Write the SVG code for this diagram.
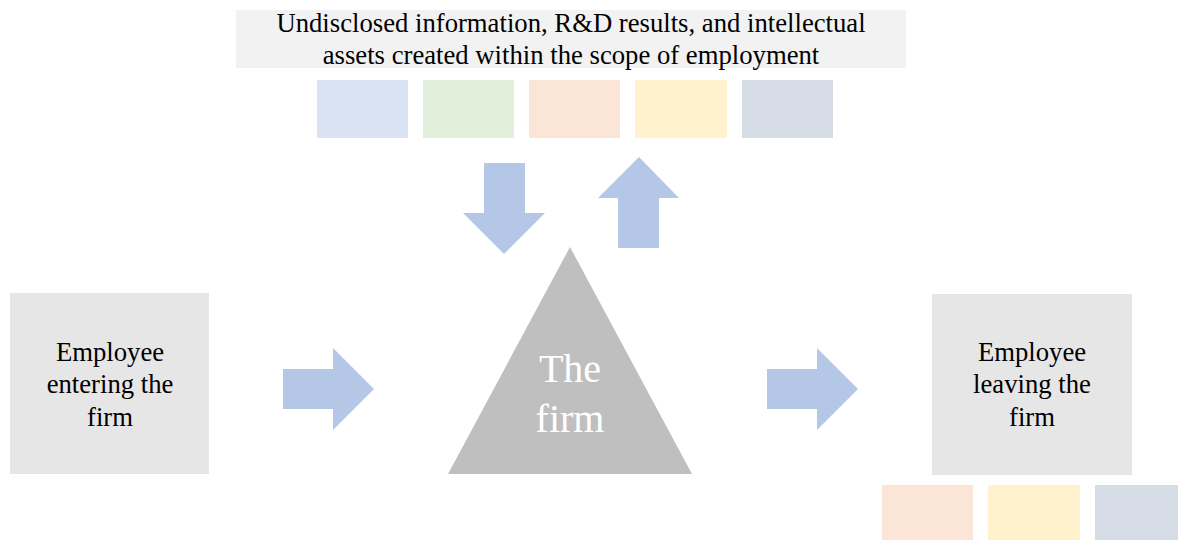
<svg xmlns="http://www.w3.org/2000/svg" width="1178" height="540" viewBox="0 0 1178 540">
<style>
.t{font-family:"Liberation Serif","Times New Roman",serif;font-size:26.7px;fill:#000;text-anchor:middle}
.big{font-family:"Liberation Serif","Times New Roman",serif;font-size:40px;fill:#fff;text-anchor:middle}
.arrow{fill:#b4c7e7}
.box{fill:#e7e6e6}
.c1{fill:#dae3f3}.c2{fill:#e2efda}.c3{fill:#fbe5d6}.c4{fill:#fff2cc}.c5{fill:#d6dce5}
</style>
<rect width="1178" height="540" fill="#fff"/>
<g id="assets">
<rect x="236" y="10" width="670" height="58" fill="#f2f2f2"/>
<text class="t" x="571" y="32">Undisclosed information, R&amp;D results, and intellectual</text>
<text class="t" x="571" y="64">assets created within the scope of employment</text>
<rect class="c1" x="317" y="80" width="91" height="58"/>
<rect class="c2" x="423" y="80" width="91" height="58"/>
<rect class="c3" x="529" y="80" width="91" height="58"/>
<rect class="c4" x="635" y="80" width="92" height="58"/>
<rect class="c5" x="742" y="80" width="91" height="58"/>
</g>
<g id="firm">
<polygon points="570,247 692,474 448,474" fill="#bfbfbf"/>
<text class="big" x="570" y="382">The</text>
<text class="big" x="570" y="432">firm</text>
</g>
<g id="entering">
<rect class="box" x="10" y="293" width="199" height="181"/>
<text class="t" x="110" y="361">Employee</text>
<text class="t" x="110" y="393">entering the</text>
<text class="t" x="110" y="426">firm</text>
</g>
<g id="leaving">
<rect class="box" x="932" y="294" width="200" height="181"/>
<text class="t" x="1032" y="361">Employee</text>
<text class="t" x="1032" y="393">leaving the</text>
<text class="t" x="1032" y="426">firm</text>
<rect class="c3" x="882" y="485" width="91" height="55"/>
<rect class="c4" x="988" y="485" width="92" height="55"/>
<rect class="c5" x="1095" y="485" width="83" height="55"/>
</g>
<g id="connectors">
<polygon class="arrow" points="484,163 525,163 525,213 545,213 504,254 463,213 484,213"/>
<polygon class="arrow" points="639,157 679,198 659,198 659,248 618,248 618,198 598,198"/>
<polygon class="arrow" points="283,369 333,369 333,348 374,389 333,430 333,409 283,409"/>
<polygon class="arrow" points="767,369 817,369 817,348 858,389 817,430 817,409 767,409"/>
</g>
</svg>
